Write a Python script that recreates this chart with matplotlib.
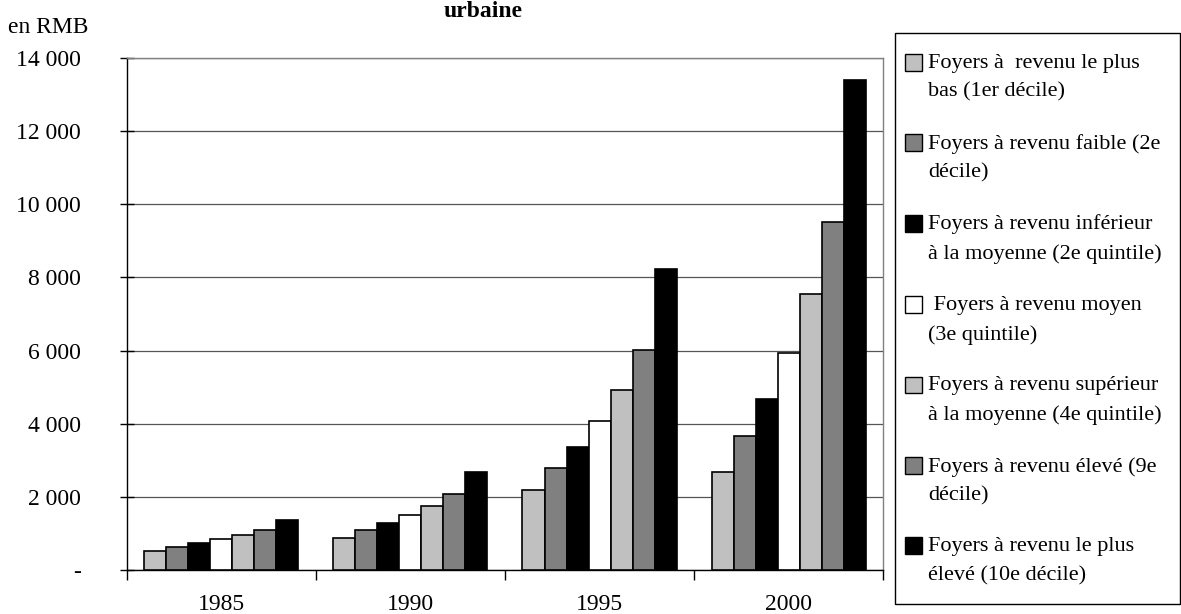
import numpy as np
import matplotlib.pyplot as plt
from matplotlib.container import BarContainer
from matplotlib.patches import Rectangle
from matplotlib.legend_handler import HandlerPatch
from matplotlib.ticker import FuncFormatter, MultipleLocator

plt.rcParams["font.family"] = ["Liberation Serif", "DejaVu Serif"]

years = ["1985", "1990", "1995", "2000"]
labels = [
    "Foyers à  revenu le plus\nbas (1er décile)",
    "Foyers à revenu faible (2e\ndécile)",
    "Foyers à revenu inférieur\nà la moyenne (2e quintile)",
    " Foyers à revenu moyen\n(3e quintile)",
    "Foyers à revenu supérieur\nà la moyenne (4e quintile)",
    "Foyers à revenu élevé (9e\ndécile)",
    "Foyers à revenu le plus\nélevé (10e décile)",
]
decile1 = [510, 880, 2190, 2690]
decile2 = [620, 1100, 2800, 3670]
quint2 = [730, 1280, 3360, 4680]
quint3 = [840, 1500, 4070, 5920]
quint4 = [950, 1750, 4920, 7550]
decile9 = [1100, 2080, 6020, 9510]
decile10 = [1380, 2680, 8230, 13400]
series = [decile1, decile2, quint2, quint3, quint4, decile9, decile10]
colors = ["#C0C0C0", "#808080", "#000000", "#FFFFFF", "#C0C0C0", "#808080", "#000000"]

FS = 17
LEG_FS = 16
LINESP = 1.68

fig = plt.figure(figsize=(11.81, 6.14), dpi=100)
ax = fig.add_axes([0.1075, 0.0717, 0.6402, 0.8338])

x = np.arange(len(years))
w = 0.1164
for i, (vals, col, lab) in enumerate(zip(series, colors, labels)):
    ax.bar(x + (i - 3) * w, vals, width=w, color=col, edgecolor="black",
           linewidth=1.2, label=lab, zorder=3)

ax.set_xlim(-0.5, 3.5)
ax.set_ylim(0, 14000)
ax.yaxis.set_major_locator(MultipleLocator(2000))
ax.yaxis.set_major_formatter(FuncFormatter(
    lambda v, p: "-" if v == 0 else f"{int(v):,}".replace(",", " ")))
ax.grid(axis="y", color="#555555", linewidth=0.9, zorder=0)

ax.set_xticks(x)
ax.set_xticklabels(years)
ax.set_xticks(np.arange(-0.5, 4.0, 1.0), minor=True)
ax.tick_params(axis="x", which="major", length=0, pad=17, labelsize=FS)
ax.tick_params(axis="x", which="minor", length=7, width=1, direction="out")
ax.tick_params(axis="y", length=10, width=1, direction="inout", labelsize=FS, pad=28)

for s in ["top", "right"]:
    ax.spines[s].set_color("#808080")
    ax.spines[s].set_linewidth(1)
ax.spines["left"].set_linewidth(1)
ax.spines["bottom"].set_linewidth(1)

fig.text(0.0068, 0.946, "en RMB", fontsize=FS, va="baseline", ha="left")
fig.text(0.409, 0.972, "urbaine", fontsize=FS, weight="bold", va="baseline", ha="center")


# legend square sits next to the first line of each two-line label
def top_square(legend, orig_handle, xdescent, ydescent, width, height, fontsize):
    shift = 0.5 * 0.80 * LINESP * fontsize
    return Rectangle((-xdescent, -ydescent + shift), width, height)


def first_child(legend_handle, orig_handle):
    legend_handle.update_from(orig_handle[0])


leg = ax.legend(loc="upper left", bbox_to_anchor=(0.7663, 0.912),
                bbox_transform=fig.transFigure, fontsize=LEG_FS, frameon=False,
                handlelength=0.77, handleheight=0.77, handletextpad=0.28,
                labelspacing=1.43, borderpad=0, borderaxespad=0,
                handler_map={BarContainer: HandlerPatch(patch_func=top_square,
                                                        update_func=first_child)})
for h in leg.legend_handles:
    h.set_linewidth(1)
for t in leg.get_texts():
    t.set_linespacing(LINESP)

# legend box
fig.patches.append(Rectangle((895 / 1181, 1 - 604 / 614), 285 / 1181, 571 / 614,
                             transform=fig.transFigure, fill=False,
                             edgecolor="black", linewidth=1))

fig.savefig("out.png", dpi=100)
